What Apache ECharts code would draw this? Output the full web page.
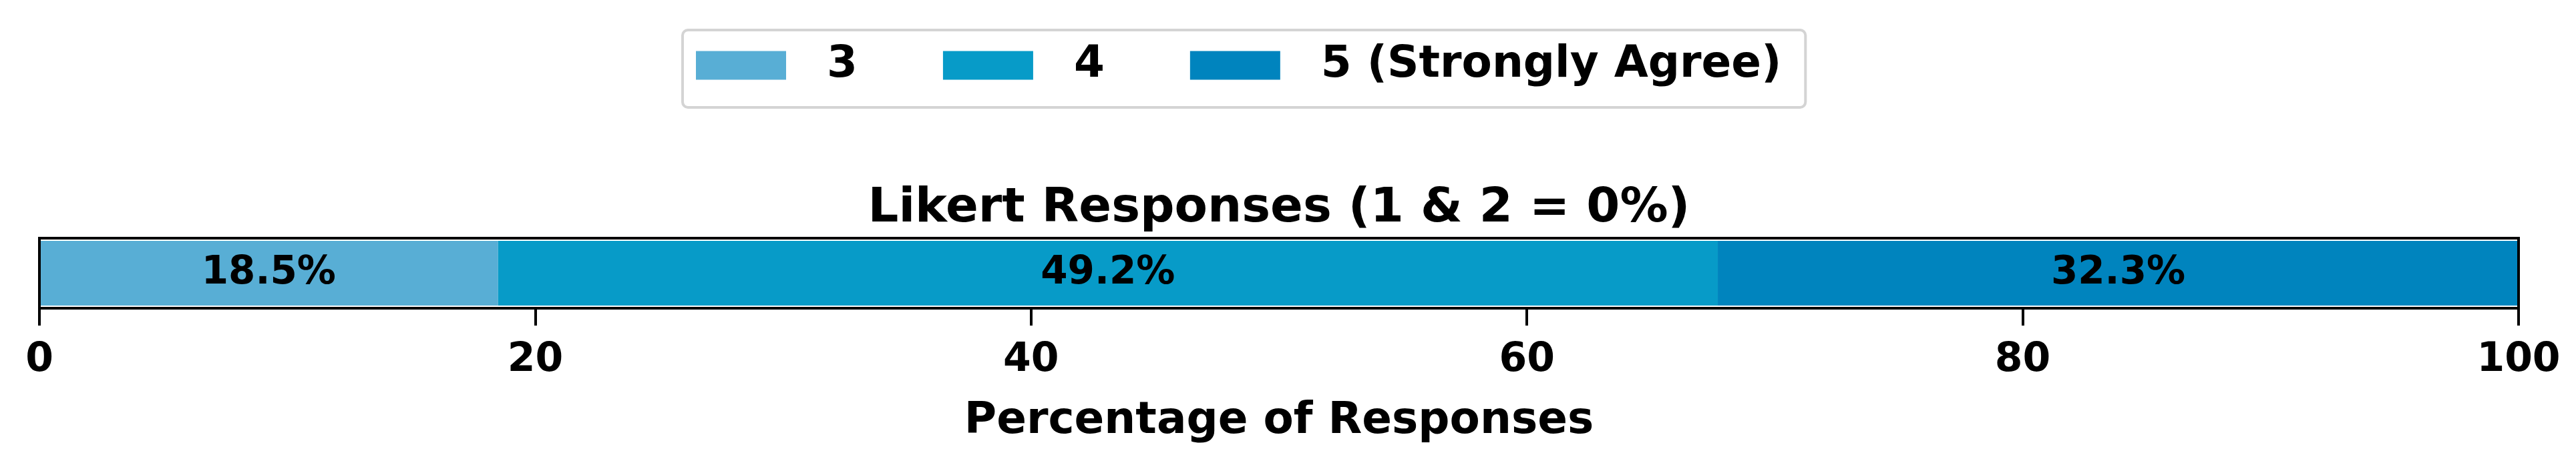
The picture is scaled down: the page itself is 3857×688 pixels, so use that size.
<!DOCTYPE html>
<html>
<head>
<meta charset="utf-8">
<script src="https://cdn.jsdelivr.net/npm/echarts@6/dist/echarts.min.js"></script>
<style>
    html, body { margin: 0; padding: 0; background: #fff; }
    #chart_likert { width: 3857px; height: 688px; }
</style>
</head>
<body>
<div id="chart_likert"></div>
<script>
// data
let categories = ["Likert"];
let responseNames = ["3", "4", "5 (Strongly Agree)"];
let responseValues = [18.5, 49.2, 32.3];
let xTicks = [0, 20, 40, 60, 80, 100];

let colors = ["#58aed5", "#079bc8", "#0084be"];
let font = "DejaVu Sans";

let series = responseNames.map(function (name, i) {
    return {
        name: name,
        type: "bar",
        stack: "total",
        barWidth: 97,
        data: [responseValues[i]],
        label: {
            show: true,
            position: "inside",
            formatter: "{c}%",
            color: "#000",
            fontFamily: font,
            fontWeight: "bold",
            fontSize: 58
        }
    };
});

let option_chart_likert = {
    animation: false,
    color: colors,
    textStyle: {
        fontFamily: font,
        color: "#000"
    },
    title: {
        text: "Likert Responses (1 & 2 = 0%)",
        left: 1915,
        top: 277,
        padding: 0,
        textAlign: "center",
        textStyle: {
            fontFamily: font,
            fontWeight: "bold",
            fontSize: 72,
            color: "#000"
        }
    },
    legend: {
        data: responseNames,
        left: 1022,
        top: 45,
        padding: [20, 36, 30, 20],
        itemWidth: 135,
        itemHeight: 43,
        itemGap: 128,
        icon: "rect",
        borderColor: "#d4d4d4",
        borderWidth: 4,
        borderRadius: 8,
        backgroundColor: "#fff",
        textStyle: {
            fontFamily: font,
            fontWeight: "bold",
            fontSize: 66,
            color: "#000",
            padding: [0, 0, 0, 56]
        }
    },
    grid: {
        show: true,
        z: 10,
        left: 59,
        right: 86,
        top: 357,
        height: 105,
        backgroundColor: "transparent",
        borderColor: "#000",
        borderWidth: 4
    },
    xAxis: {
        type: "value",
        min: xTicks[0],
        max: xTicks[xTicks.length - 1],
        interval: xTicks[1] - xTicks[0],
        name: "Percentage of Responses",
        nameLocation: "middle",
        nameGap: 137,
        nameTextStyle: {
            fontFamily: font,
            fontWeight: "bold",
            fontSize: 66,
            color: "#000"
        },
        axisLine: { show: false },
        splitLine: { show: false },
        axisTick: {
            show: true,
            length: 26,
            lineStyle: { color: "#000", width: 4 }
        },
        axisLabel: {
            margin: 48,
            fontFamily: font,
            fontWeight: "bold",
            fontSize: 60,
            color: "#000"
        }
    },
    yAxis: {
        type: "category",
        data: categories,
        axisLine: { show: false },
        axisTick: { show: false },
        axisLabel: { show: false },
        splitLine: { show: false }
    },
    series: series
};

let chart_likert = echarts.init(document.getElementById("chart_likert"));
chart_likert.setOption(option_chart_likert);
</script>
</body>
</html>
